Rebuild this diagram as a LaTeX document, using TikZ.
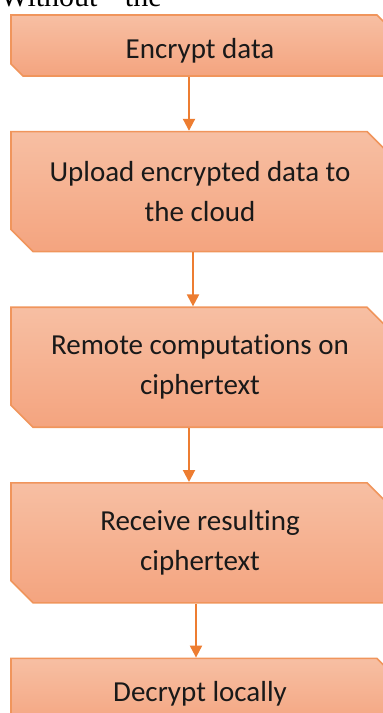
\documentclass[tikz,border=0pt]{standalone}
\usepackage{fontspec}
\setmainfont[Ligatures={TeX,NoCommon}]{Carlito}
\newfontfamily\pagefont{Liberation Serif}
\usetikzlibrary{shapes.misc, arrows.meta, positioning}
\definecolor{stepTop}{HTML}{F7BFA3}
\definecolor{stepBottom}{HTML}{F4A47F}
\definecolor{stepBorder}{HTML}{F0955C}
\definecolor{arrowColor}{HTML}{ED7D31}
\tikzstyle{stepbox} = [chamfered rectangle,
chamfered rectangle corners={north east, south west},
chamfered rectangle xsep=5.5pt,
chamfered rectangle ysep=5.5pt,
minimum width=189pt,
minimum height=60pt,
align=center,
font=\fontsize{14.5}{20}\selectfont,
text=black!90,
draw=stepBorder, line width=0.8pt,
top color=stepTop, bottom color=stepBottom]
\tikzstyle{smallstep} = [stepbox,
minimum height=30.5pt,
chamfered rectangle xsep=3pt,
chamfered rectangle ysep=3pt]
\tikzstyle{arrow} = [draw=arrowColor, line width=1pt, -{Triangle[width=6pt,length=6pt]}]

\begin{document}
\begin{tikzpicture}[node distance=27pt]
    \useasboundingbox (0,0) rectangle (191.5pt,-356.5pt);
    \clip (0,0) rectangle (191.5pt,-356.5pt);

    % Nodes
    \node[anchor=base west, inner sep=0pt, font=\pagefont\fontsize{15}{18}\selectfont] (pageline) at (0pt,-3pt) {Without ``the};
    \node[smallstep, text height=17pt, text depth=3.6pt, inner ysep=1pt] (encrypt) at (100pt,-22.75pt) {Encrypt data};
    \node[stepbox, below=of encrypt] (upload) {Upload encrypted data to\\the cloud};
    \node[stepbox, below=of upload] (remote) {Remote computations on\\ciphertext};
    \node[stepbox, below=of remote] (receive) {Receive resulting\\ciphertext};
    \node[smallstep, below=of receive, minimum height=35pt] (decrypt) {Decrypt locally};

    % Arrows
    \draw[arrow] ([xshift=-5.5pt]encrypt.south) -- ([xshift=-5.5pt]upload.north);
    \draw[arrow] ([xshift=-3.5pt]upload.south) -- ([xshift=-3.5pt]remote.north);
    \draw[arrow] ([xshift=-5.5pt]remote.south) -- ([xshift=-5.5pt]receive.north);
    \draw[arrow] ([xshift=-2pt]receive.south) -- ([xshift=-2pt]decrypt.north);
\end{tikzpicture}
\end{document}
